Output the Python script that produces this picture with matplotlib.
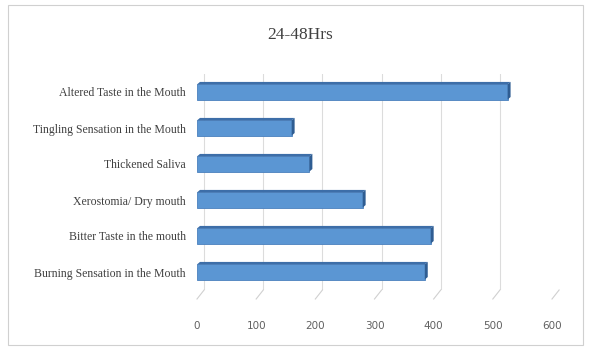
import matplotlib
matplotlib.use("Agg")
import matplotlib.pyplot as plt
from matplotlib.patches import Rectangle, Polygon

categories = ["Burning Sensation in the Mouth", "Bitter Taste in the mouth",
              "Xerostomia/ Dry mouth", "Thickened Saliva",
              "Tingling Sensation in the Mouth", "Altered Taste in the Mouth"]
values = [385, 395, 280, 190, 160, 525]
ticks = [0, 100, 200, 300, 400, 500, 600]
title = "24-48Hrs"

fig = plt.figure(figsize=(5.9, 3.51), dpi=100)
fig.patch.set_facecolor("white")
fig.add_artist(Rectangle((8/590, 1-345/351), 575/590, 340/351, transform=fig.transFigure,
                         fill=False, edgecolor="#d0d0d0", linewidth=0.8))
ax = fig.add_axes([197/590, 1-290/351, 355/590, 216/351])

y = list(range(len(categories)))
h = 0.42
face = "#5b96d3"
dark = "#3d6ea8"
ax.barh(y, values, height=h, color=face, edgecolor="#4a80bd", linewidth=0.6, zorder=3)
# 3D effect: top strip and end cap
for yi, v in zip(y, values):
    ax.add_patch(Polygon([(0, yi + h/2), (v, yi + h/2), (v + 5, yi + h/2 + 0.07), (5, yi + h/2 + 0.07)],
                         closed=True, facecolor=dark, edgecolor="none", zorder=3))
    ax.add_patch(Polygon([(v, yi - h/2), (v + 5, yi - h/2 + 0.07), (v + 5, yi + h/2 + 0.07), (v, yi + h/2)],
                         closed=True, facecolor="#2f5d92", edgecolor="none", zorder=3))

ax.set_xlim(0, 600)
ax.set_ylim(-0.5, 5.5)
ax.set_xticks(ticks)
ax.set_xticklabels([str(t) for t in ticks])
for t in ticks:
    ax.plot([t + 12, t + 12], [-0.5, 5.5], color="#dcdcdc", linewidth=0.8, zorder=1)
    ax.plot([t, t + 12], [-0.75, -0.5], color="#d0d0d0", linewidth=0.8, zorder=1, clip_on=False)
ax.set_yticks(y)
ax.set_yticklabels(categories, fontfamily="Liberation Serif", fontsize=8.5, color="#404040")
ax.tick_params(axis="y", length=0, pad=8)
ax.tick_params(axis="x", length=0, pad=22, labelsize=7.5, labelcolor="#606060")
for s in ax.spines.values():
    s.set_visible(False)
ax.set_facecolor("none")
fig.text(300/590, 1-35/351, title, ha="center", va="center", fontfamily="Liberation Serif",
         fontsize=12.5, color="#404040")
fig.savefig("out.png", dpi=100)
